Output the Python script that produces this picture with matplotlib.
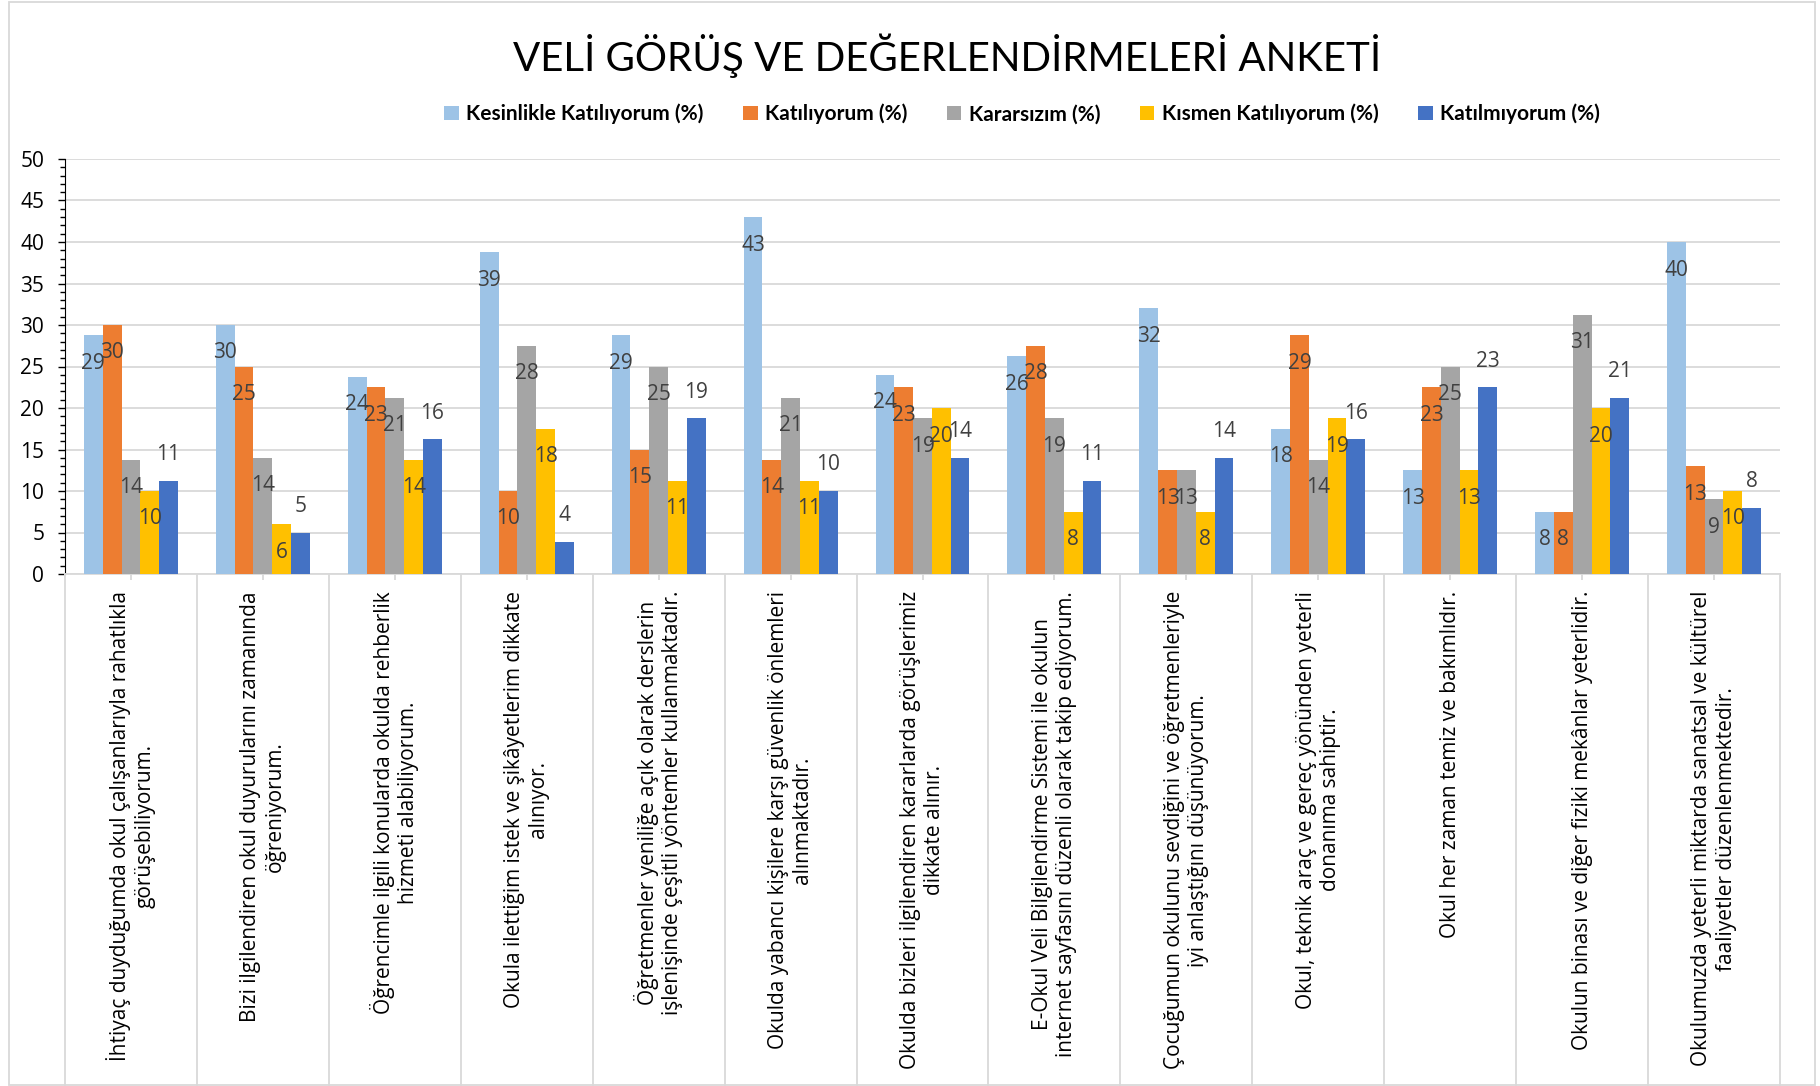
import numpy as np
import matplotlib
matplotlib.use("Agg")
import matplotlib.pyplot as plt
import matplotlib.transforms as mtransforms
from matplotlib.lines import Line2D
from matplotlib.patches import Rectangle
from matplotlib.ticker import MultipleLocator

# ---------------- data ----------------
categories = [
    "İhtiyaç duyduğumda okul çalışanlarıyla rahatlıkla\ngörüşebiliyorum.",
    "Bizi ilgilendiren okul duyurularını zamanında\nöğreniyorum.",
    "Öğrencimle ilgili konularda okulda rehberlik\nhizmeti alabiliyorum.",
    "Okula ilettiğim istek ve şikâyetlerim dikkate\nalınıyor.",
    "Öğretmenler yeniliğe açık olarak derslerin\nişlenişinde çeşitli yöntemler kullanmaktadır.",
    "Okulda yabancı kişilere karşı güvenlik önlemleri\nalınmaktadır.",
    "Okulda bizleri ilgilendiren kararlarda görüşlerimiz\ndikkate alınır.",
    "E-Okul Veli Bilgilendirme Sistemi ile okulun\ninternet sayfasını düzenli olarak takip ediyorum.",
    "Çocuğumun okulunu sevdiğini ve öğretmenleriyle\niyi anlaştığını düşünüyorum.",
    "Okul, teknik araç ve gereç yönünden yeterli\ndonanıma sahiptir.",
    "Okul her zaman temiz ve bakımlıdır.",
    "Okulun binası ve diğer fiziki mekânlar yeterlidir.",
    "Okulumuzda yeterli miktarda sanatsal ve kültürel\nfaaliyetler düzenlenmektedir.",
]

series_names = ["Kesinlikle Katılıyorum (%)", "Katılıyorum (%)", "Kararsızım (%)",
                "Kısmen Katılıyorum (%)", "Katılmıyorum (%)"]

kesinlikle   = [28.75, 30, 23.75, 38.75, 28.75, 43, 24, 26.25, 32, 17.5, 12.5, 7.5, 40]
katiliyorum  = [30, 25, 22.5, 10, 15, 13.75, 22.5, 27.5, 12.5, 28.75, 22.5, 7.5, 13]
kararsizim   = [13.75, 14, 21.25, 27.5, 25, 21.25, 18.75, 18.75, 12.5, 13.75, 25, 31.25, 9]
kismen       = [10, 6, 13.75, 17.5, 11.25, 11.25, 20, 7.5, 7.5, 18.75, 12.5, 20, 10]
katilmiyorum = [11.25, 5, 16.25, 3.9, 18.75, 10, 14, 11.25, 14, 16.25, 22.5, 21.25, 8]

series = [kesinlikle, katiliyorum, kararsizim, kismen, katilmiyorum]
colors = ["#9DC3E6", "#ED7D31", "#A5A5A5", "#FFC000", "#4472C4"]

title = "VELİ GÖRÜŞ VE DEĞERLENDİRMELERİ ANKETİ"

BODY = ["Open Sans", "DejaVu Sans"]
HEAD = ["Lato", "DejaVu Sans"]

# ---------------- figure ----------------
W, H = 1820, 1086
fig = plt.figure(figsize=(W / 100, H / 100), dpi=100)
left, right, top, bottom = 65, 1780, 159, 574
ax = fig.add_axes([left / W, 1 - bottom / H, (right - left) / W, (bottom - top) / H])

x = np.arange(len(categories))
bw = 0.1425
for k, (vals, col, name) in enumerate(zip(series, colors, series_names)):
    pos = x + (k - 2) * bw
    ax.bar(pos, vals, width=bw, color=col, label=name, zorder=3)
    # labels: blue series above the bar, the others inside the top
    off = 26 if k == 4 else -28
    for px_, v in zip(pos, vals):
        ax.annotate(str(int(np.floor(v + 0.5))), xy=(px_, v), xytext=(0, off),
                    textcoords="offset pixels", ha="center", va="center",
                    fontsize=15, color="#404040", family=BODY, zorder=4)

ax.set_xlim(-0.5, len(categories) - 0.5)
ax.set_ylim(0, 50)
ax.yaxis.set_major_locator(MultipleLocator(5))
ax.yaxis.set_minor_locator(MultipleLocator(1))
ax.grid(axis="y", color="#d9d9d9", linewidth=1.3, zorder=0)
ax.set_axisbelow(True)
for s in ["top", "right"]:
    ax.spines[s].set_visible(False)
ax.spines["left"].set_color("black")
ax.spines["bottom"].set_color("#d9d9d9")
ax.spines["bottom"].set_linewidth(1.3)
ax.tick_params(axis="y", which="major", length=5, width=1, color="black",
               labelsize=15, pad=10)
ax.tick_params(axis="y", which="minor", length=3.5, width=1, color="black")
for t in ax.get_yticklabels():
    t.set_family(BODY)
ax.set_xticks(x)
ax.tick_params(axis="x", length=4, color="#d9d9d9", width=1.3, labelbottom=False)

# category "table" below the axis
trans = mtransforms.blended_transform_factory(ax.transData, fig.transFigure)
for b in np.arange(-0.5, len(categories)):
    fig.add_artist(Line2D([b, b], [0.001, 1 - bottom / H], transform=trans,
                          color="#d9d9d9", linewidth=1.3))
for i, lab in enumerate(categories):
    ax.annotate(lab, xy=(i, 0), xycoords=("data", "axes fraction"),
                xytext=(0, -17), textcoords="offset pixels", rotation=90,
                ha="center", va="top", multialignment="center",
                fontsize=15, family=BODY, color="black")

# title and legend
fig.text(947 / W, 1 - 56 / H, title, ha="center", va="center",
         fontsize=29, family=HEAD, color="black")
leg = fig.legend(loc="center", bbox_to_anchor=(1022 / W, 1 - 114 / H), ncol=5,
                 frameon=False, handlelength=0.7, handleheight=0.7,
                 handletextpad=0.35, columnspacing=1.9,
                 prop={"family": HEAD, "weight": "bold", "size": 15})

# chart border
fig.add_artist(Rectangle((0.005, 0.001), 0.992, 0.997, transform=fig.transFigure,
                         fill=False, edgecolor="#d9d9d9", linewidth=1.3))

fig.savefig("out.png", dpi=100)
